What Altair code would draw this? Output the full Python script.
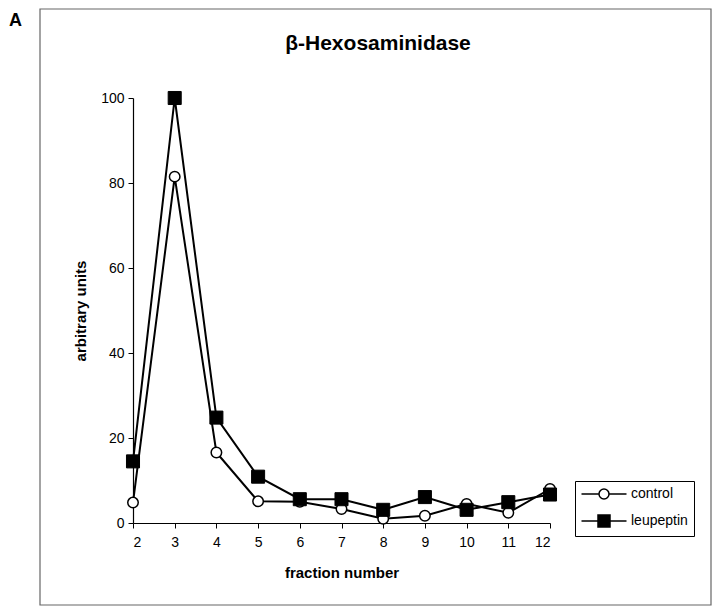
import altair as alt
import pandas as pd

fractions = [2, 3, 4, 5, 6, 7, 8, 9, 10, 11, 12]
control = [4.8, 81.5, 16.6, 5.1, 5.0, 3.3, 1.0, 1.7, 4.5, 2.4, 8.0]
leupeptin = [14.5, 100.0, 24.8, 10.9, 5.6, 5.6, 3.1, 6.1, 3.1, 4.9, 6.7]
series_names = ["control", "leupeptin"]
y_ticks = [0, 20, 40, 60, 80, 100]

FONT = "Liberation Sans"

df = pd.DataFrame({
    "fraction": fractions * 2,
    "value": control + leupeptin,
    "series": [series_names[0]] * len(fractions) + [series_names[1]] * len(fractions),
})
df["legend_series"] = df["series"]

x_enc = alt.X("fraction:Q",
              scale=alt.Scale(domain=[2, 12], nice=False, zero=False),
              axis=alt.Axis(values=fractions, title="fraction number", grid=False,
                            tickSize=5, labelPadding=7, labelFontSize=14,
                            titleFontSize=15, titleFontWeight="bold", titlePadding=16,
                            labelFont=FONT, titleFont=FONT, domainColor="black",
                            tickColor="black", labelColor="black", titleColor="black",
                            domainWidth=1.2))
y_enc = alt.Y("value:Q",
              scale=alt.Scale(domain=[0, 100], nice=False),
              axis=alt.Axis(values=y_ticks, title="arbitrary units", grid=False,
                            tickSize=5, labelPadding=4, labelFontSize=14,
                            titleFontSize=15, titleFontWeight="bold", titlePadding=12,
                            labelFont=FONT, titleFont=FONT, domainColor="black",
                            tickColor="black", labelColor="black", titleColor="black",
                            domainWidth=1.2))

base = alt.Chart(df)

lines = base.mark_line(color="black", strokeWidth=2).encode(
    x=x_enc, y=y_enc, detail="series:N"
)

ctrl_pts = base.transform_filter(alt.datum.series == "control").mark_point(
    shape="circle", filled=True, fill="white", stroke="black", strokeWidth=1.5,
    size=110, opacity=1
).encode(x="fraction:Q", y="value:Q")

leu_pts = base.transform_filter(alt.datum.series == "leupeptin").mark_point(
    shape="square", filled=True, fill="black", stroke="black", strokeWidth=1,
    size=170, opacity=1
).encode(x="fraction:Q", y="value:Q")

circle_path = "M-4.5,0L-1,0M1,0L4.5,0M-1,0A1,1 0 1 0 1,0A1,1 0 1 0 -1,0Z"
square_path = "M-4.5,0L4.5,0M-1.2,-1.2L1.2,-1.2L1.2,1.2L-1.2,1.2Z"

legend_cfg = dict(title=None, orient="none", legendX=442, legendY=383,
                  strokeColor="black", padding=6,
                  symbolStrokeWidth=1.5, symbolSize=100,
                  symbolOffset=16, labelOffset=20,
                  labelFontSize=14, labelFont=FONT,
                  labelColor="black", rowPadding=10)

# legend-only layer: its rows are filtered away, the legend comes from the fixed scale domains
legend_pts = base.transform_filter(alt.datum.value < -1).mark_point(
    filled=True, size=100, strokeWidth=1.5, opacity=1
).encode(
    x="fraction:Q", y="value:Q",
    shape=alt.Shape("legend_series:N",
                    scale=alt.Scale(domain=series_names, range=[circle_path, square_path]),
                    legend=alt.Legend(**legend_cfg)),
    fill=alt.Fill("legend_series:N",
                  scale=alt.Scale(domain=series_names, range=["white", "black"]),
                  legend=alt.Legend(**legend_cfg)),
    stroke=alt.Stroke("legend_series:N",
                      scale=alt.Scale(domain=series_names, range=["black", "black"]),
                      legend=alt.Legend(**legend_cfg)),
)

frame_df = pd.DataFrame({"k": [0]})
frame = alt.Chart(frame_df).mark_rect(fill=None, stroke="#666666", strokeWidth=1.2).encode(
    x=alt.value(-93), x2=alt.value(578), y=alt.value(-89), y2=alt.value(507)
)

title_text = alt.Chart(pd.DataFrame({"t": ["β-Hexosaminidase"]})).mark_text(
    font=FONT, fontSize=21, fontWeight="bold", color="black", baseline="alphabetic"
).encode(text="t:N", x=alt.value(245), y=alt.value(-48))

panel_text = alt.Chart(pd.DataFrame({"t": ["A"]})).mark_text(
    font=FONT, fontSize=18, fontWeight="bold", color="black", baseline="alphabetic", align="left"
).encode(text="t:N", x=alt.value(-124), y=alt.value(-72))

chart = alt.layer(frame, title_text, panel_text, lines, ctrl_pts, leu_pts, legend_pts).resolve_scale(
    shape="independent", fill="independent", stroke="independent"
).properties(
    width=417, height=425,
    autosize=alt.AutoSizeParams(type="none"),
    padding={"left": 125, "top": 90, "right": 162, "bottom": 83},
).configure(background="white").configure_view(stroke=None)

chart.save("out.html", embed_options={"renderer": "svg", "actions": False})
